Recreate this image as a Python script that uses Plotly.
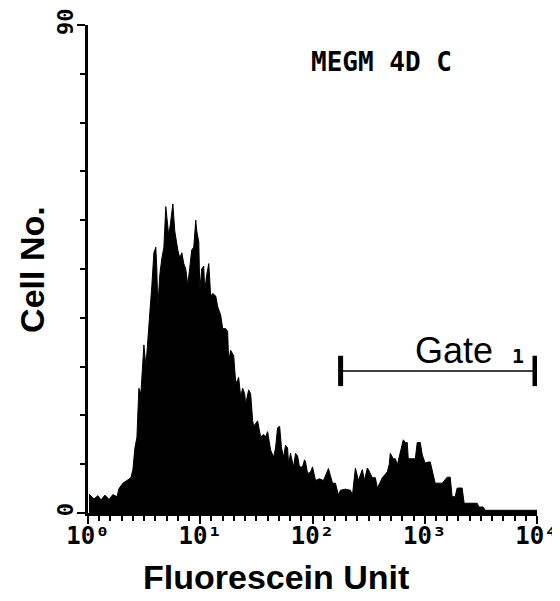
import plotly.graph_objects as go

# Histogram envelope: log10(fluorescence) and cell counts
log_fluor = [0.009, 0.053, 0.089, 0.116, 0.151, 0.187, 0.222, 0.258, 0.276, 0.311, 0.347, 0.382,
             0.400, 0.418, 0.436, 0.453, 0.471, 0.489, 0.498, 0.516, 0.533, 0.551, 0.569, 0.587,
             0.604, 0.613, 0.622, 0.640, 0.658, 0.676, 0.693, 0.711, 0.720, 0.738, 0.756, 0.773,
             0.791, 0.800, 0.818, 0.836, 0.853, 0.871, 0.889, 0.907, 0.924, 0.942, 0.960, 0.969,
             0.987, 0.996, 1.013, 1.031, 1.040, 1.058, 1.076, 1.093, 1.111, 1.138, 1.156, 1.182,
             1.200, 1.227, 1.244, 1.253, 1.271, 1.298, 1.316, 1.333, 1.342, 1.360, 1.378, 1.396,
             1.404, 1.431, 1.449, 1.467, 1.476, 1.511, 1.538, 1.564, 1.582, 1.600, 1.609, 1.627,
             1.653, 1.671, 1.689, 1.707, 1.724, 1.742, 1.760, 1.778, 1.787, 1.804, 1.831, 1.849,
             1.867, 1.884, 1.911, 1.929, 1.938, 1.956, 1.982, 2.000, 2.027, 2.062, 2.098, 2.133,
             2.142, 2.178, 2.204, 2.231, 2.249, 2.293, 2.338, 2.356, 2.373, 2.382, 2.409, 2.444,
             2.462, 2.489, 2.498, 2.533, 2.560, 2.578, 2.622, 2.667, 2.684, 2.693, 2.720, 2.738,
             2.756, 2.782, 2.800, 2.809, 2.827, 2.844, 2.853, 2.889, 2.916, 2.933, 2.960, 2.978,
             3.004, 3.031, 3.049, 3.076, 3.093, 3.156, 3.173, 3.200, 3.227, 3.244, 3.271, 3.289,
             3.333, 3.351, 3.404, 3.467, 3.484, 3.520, 3.538, 4.000]
cell_counts = [3.5, 2.6, 3.2, 2.4, 3.3, 2.5, 3.4, 3.0, 4.5, 5.5, 6.0, 6.5,
               8, 12, 14, 23, 22, 28, 31, 27, 33, 37, 42, 48,
               49, 45, 38, 44, 47, 49, 56.5, 52, 51, 54, 57, 52,
               49, 48.5, 47, 48, 46, 45, 42, 45, 48.5, 49, 54, 52,
               50, 41, 45, 45.5, 41, 44, 46, 40, 40.5, 40, 38, 36.5,
               34, 34, 33.5, 28, 30, 29, 24, 24.5, 25, 21.5, 23, 22,
               20, 22.7, 22, 17, 16, 17, 14, 14.5, 14, 15, 13.5, 11.6,
               10.3, 12, 15.7, 16, 12, 10.3, 12.5, 12, 9, 11, 8.5, 11,
               10.5, 8.5, 8.5, 9.8, 9.4, 7.3, 7.5, 8.5, 6, 6.3, 6, 8,
               8.2, 5.5, 5.5, 3.3, 4.2, 4.4, 4.2, 3.3, 7, 8.3, 6, 8,
               6, 8.3, 8, 6.5, 6.5, 4.6, 6.5, 7.6, 9, 11, 10, 10,
               8.9, 11, 12.5, 13.5, 13, 13, 10, 10, 10, 13, 13, 10.7,
               9.2, 9.4, 9.4, 7, 5.5, 5.5, 6, 6.6, 6.6, 3, 3, 4.6,
               4.6, 1.8, 1.8, 1.8, 1.1, 1.1, 0.5, 0.5]

fluor = [10 ** v for v in log_fluor]

# Axis ticks
decade_vals = [1, 10, 100, 1000, 10000]
decade_text = ["<b>10⁰</b>", "<b>10¹</b>", "<b>10²</b>", "<b>10³</b>", "<b>10⁴</b>"]
minor_x = [10 ** (i / 10) for i in range(41) if i % 10 != 0]
y_tickvals = [0, 90]
y_ticktext = ["<b>0</b>", "<b>90</b>"]

# Gate 1 marker
gate_lo, gate_hi, gate_level = 178, 9600, 26.2
cap_lo, cap_hi = 23.4, 29.0

fig = go.Figure()
fig.add_trace(go.Scatter(x=fluor, y=cell_counts, mode="lines", line=dict(color="black", width=1),
                         fill="tozeroy", fillcolor="black", showlegend=False, hoverinfo="skip"))
fig.add_trace(go.Scatter(x=[gate_lo, gate_hi], y=[gate_level, gate_level], mode="lines",
                         line=dict(color="black", width=1.5), showlegend=False))
for gx in (gate_lo, gate_hi):
    fig.add_trace(go.Scatter(x=[gx, gx], y=[cap_lo, cap_hi], mode="lines",
                             line=dict(color="black", width=5), showlegend=False))

fig.update_layout(
    width=560, height=601,
    margin=dict(l=80, r=31, t=17, b=96),
    paper_bgcolor="white", plot_bgcolor="white",
    showlegend=False,
    xaxis=dict(type="log", range=[0, 4], tickvals=decade_vals, ticktext=decade_text,
               automargin=False, ticklabelstandoff=-9, ticklabeloverflow="allow",
               showgrid=False, zeroline=False, showline=True, linecolor="black", linewidth=3,
               ticks="outside", ticklen=8, tickwidth=2, tickcolor="black",
               minor=dict(tickvals=minor_x, ticks="outside", ticklen=5, tickwidth=2, tickcolor="black"),
               tickfont=dict(family="DejaVu Sans Mono", size=24, color="black")),
    yaxis=dict(range=[0, 90], tickvals=y_tickvals, ticktext=y_ticktext, tickangle=-90,
               automargin=False, ticklabelstandoff=-5, ticklabeloverflow="allow",
               showgrid=False, zeroline=False, showline=True, linecolor="black", linewidth=3,
               ticks="outside", ticklen=8, tickwidth=2, tickcolor="black",
               minor=dict(dtick=9, tick0=0, ticks="outside", ticklen=5, tickwidth=2, tickcolor="black"),
               tickfont=dict(family="DejaVu Sans Mono", size=22, color="black")),
)

# axis titles
fig.add_annotation(xref="paper", yref="paper", x=0.418, y=-0.131, xanchor="center", yanchor="middle",
                   text="<b>Fluorescein Unit</b>", showarrow=False,
                   font=dict(family="Liberation Sans", size=34, color="black"))
fig.add_annotation(xref="paper", yref="paper", x=-0.125, y=0.5, xanchor="center", yanchor="middle",
                   text="<b>Cell No.</b>", textangle=-90, showarrow=False,
                   font=dict(family="Liberation Sans", size=34, color="black"))

fig.add_annotation(xref="paper", yref="paper", x=0.653, y=0.924, xanchor="center", yanchor="middle",
                   text="<b>MEGM 4D C</b>", showarrow=False,
                   font=dict(family="DejaVu Sans Mono", size=26, color="black"))
fig.add_annotation(xref="paper", yref="paper", x=0.815, y=0.334, xanchor="center", yanchor="middle",
                   text="Gate", showarrow=False,
                   font=dict(family="Liberation Sans", size=36, color="black"))
fig.add_annotation(xref="paper", yref="paper", x=0.958, y=0.322, xanchor="center", yanchor="middle",
                   text="<b>1</b>", showarrow=False,
                   font=dict(family="DejaVu Sans Mono", size=20, color="black"))

fig.write_html("out.html")
